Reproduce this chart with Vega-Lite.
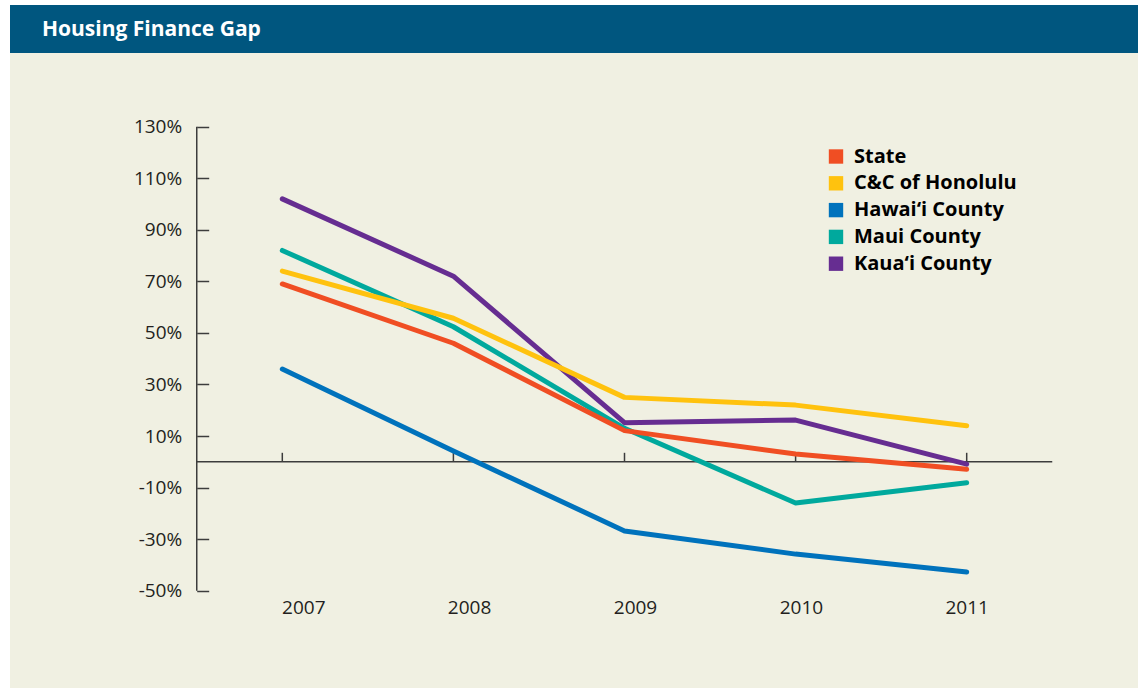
{
  "$schema": "https://vega.github.io/schema/vega-lite/v6.json",
  "background": "#ffffff",
  "padding": {"left": 10, "top": 5, "right": 0, "bottom": 0},
  "spacing": 0,
  "config": {"view": {"stroke": null}, "font": "Open Sans"},
  "vconcat": [
    {
      "width": 1128,
      "height": 48,
      "view": {"fill": "#00567F", "stroke": null},
      "title": {
        "text": "Housing Finance Gap",
        "anchor": "start",
        "frame": "group",
        "orient": "top",
        "offset": -52,
        "dx": 32,
        "baseline": "alphabetic",
        "color": "#ffffff",
        "font": "Open Sans",
        "fontSize": 21,
        "fontWeight": "bold"
      },
      "data": {"values": []},
      "mark": "rect"
    },
    {
      "width": 1128,
      "height": 635,
      "view": {"fill": "#F0F0E2", "stroke": null},
      "layer": [
        {
          "data": {"values": [{"ref": 0}]},
          "mark": {"type": "rule", "color": "#3c3c3c", "strokeWidth": 1.5},
          "encoding": {
            "y": {
              "field": "ref", "type": "quantitative",
              "scale": {"domain": [-87.74, 158.59], "nice": false, "zero": false},
              "axis": {"orient": "left", "offset": -186.7, "values": [-50, -30, -10, 10, 30, 50, 70, 90, 110, 130], "labelExpr": "datum.value + '%'", "domain": false, "grid": false, "ticks": true, "tickSize": -12, "tickWidth": 1.5, "tickColor": "#3c3c3c", "labelPadding": 27, "labelFontSize": 19, "labelFont": "Open Sans", "labelColor": "#231F20", "labelFlush": false, "title": null}
            },
            "x": {
              "datum": 2006.5, "type": "quantitative",
              "scale": {"domain": [2005.4085, 2012.0012], "nice": false, "zero": false},
              "axis": {"orient": "bottom", "offset": -89.5, "values": [2007, 2008, 2009, 2010, 2011], "format": "d", "domain": false, "ticks": false, "grid": false, "labelPadding": 0, "labelFontSize": 19, "labelFont": "Open Sans", "labelColor": "#231F20", "labelFlush": false, "title": null,
                "labelOffset": {"condition": [{"test": "datum.value == 2007", "value": 21}, {"test": "datum.value == 2008", "value": 15.7}, {"test": "datum.value == 2009", "value": 10.5}, {"test": "datum.value == 2010", "value": 5.3}], "value": 0}}
            },
            "x2": {"datum": 2011.5}
          }
        },
        {
          "data": {"values": [{"lo": -50, "hi": 130}]},
          "mark": {"type": "rule", "color": "#3c3c3c", "strokeWidth": 1.5},
          "encoding": {
            "y": {
              "field": "lo", "type": "quantitative",
              "axis": {"orient": "left", "offset": -186.7, "values": [-50, -30, -10, 10, 30, 50, 70, 90, 110, 130], "labelExpr": "datum.value + '%'", "domain": false, "grid": false, "ticks": true, "tickSize": -12, "tickWidth": 1.5, "tickColor": "#3c3c3c", "labelPadding": 27, "labelFontSize": 19, "labelFont": "Open Sans", "labelColor": "#231F20", "labelFlush": false, "title": null}
            },
            "y2": {"field": "hi"},
            "x": {
              "datum": 2006.5, "type": "quantitative",
              "axis": {"orient": "bottom", "offset": -89.5, "values": [2007, 2008, 2009, 2010, 2011], "format": "d", "domain": false, "ticks": false, "grid": false, "labelPadding": 0, "labelFontSize": 19, "labelFont": "Open Sans", "labelColor": "#231F20", "labelFlush": false, "title": null,
                "labelOffset": {"condition": [{"test": "datum.value == 2007", "value": 21}, {"test": "datum.value == 2008", "value": 15.7}, {"test": "datum.value == 2009", "value": 10.5}, {"test": "datum.value == 2010", "value": 5.3}], "value": 0}}
            }
          }
        },
        {
          "data": {"values": [{"year": 2007}, {"year": 2008}, {"year": 2009}, {"year": 2010}, {"year": 2011}]},
          "mark": {"type": "rule", "color": "#3c3c3c", "strokeWidth": 1.5},
          "encoding": {
            "x": {
              "field": "year", "type": "quantitative",
              "axis": {"orient": "bottom", "offset": -89.5, "values": [2007, 2008, 2009, 2010, 2011], "format": "d", "domain": false, "ticks": false, "grid": false, "labelPadding": 0, "labelFontSize": 19, "labelFont": "Open Sans", "labelColor": "#231F20", "labelFlush": false, "title": null,
                "labelOffset": {"condition": [{"test": "datum.value == 2007", "value": 21}, {"test": "datum.value == 2008", "value": 15.7}, {"test": "datum.value == 2009", "value": 10.5}, {"test": "datum.value == 2010", "value": 5.3}], "value": 0}}
            },
            "y": {
              "datum": 0, "type": "quantitative",
              "axis": {"orient": "left", "offset": -186.7, "values": [-50, -30, -10, 10, 30, 50, 70, 90, 110, 130], "labelExpr": "datum.value + '%'", "domain": false, "grid": false, "ticks": true, "tickSize": -12, "tickWidth": 1.5, "tickColor": "#3c3c3c", "labelPadding": 27, "labelFontSize": 19, "labelFont": "Open Sans", "labelColor": "#231F20", "labelFlush": false, "title": null}
            },
            "y2": {"datum": 3.5}
          }
        },
        {
          "data": {
            "values": [
              {"year": 2007, "series": "Hawai‘i County", "value": 36},
              {"year": 2008, "series": "Hawai‘i County", "value": 4.2},
              {"year": 2009, "series": "Hawai‘i County", "value": -26.8},
              {"year": 2010, "series": "Hawai‘i County", "value": -35.8},
              {"year": 2011, "series": "Hawai‘i County", "value": -42.7},
              {"year": 2007, "series": "Maui County", "value": 82},
              {"year": 2008, "series": "Maui County", "value": 52.4},
              {"year": 2009, "series": "Maui County", "value": 13},
              {"year": 2010, "series": "Maui County", "value": -16},
              {"year": 2011, "series": "Maui County", "value": -8.1},
              {"year": 2007, "series": "State", "value": 69},
              {"year": 2008, "series": "State", "value": 46},
              {"year": 2009, "series": "State", "value": 12.1},
              {"year": 2010, "series": "State", "value": 3},
              {"year": 2011, "series": "State", "value": -2.9},
              {"year": 2007, "series": "Kaua‘i County", "value": 102},
              {"year": 2008, "series": "Kaua‘i County", "value": 72},
              {"year": 2009, "series": "Kaua‘i County", "value": 15.2},
              {"year": 2010, "series": "Kaua‘i County", "value": 16.2},
              {"year": 2011, "series": "Kaua‘i County", "value": -0.9},
              {"year": 2007, "series": "C&C of Honolulu", "value": 74},
              {"year": 2008, "series": "C&C of Honolulu", "value": 55.7},
              {"year": 2009, "series": "C&C of Honolulu", "value": 25},
              {"year": 2010, "series": "C&C of Honolulu", "value": 22},
              {"year": 2011, "series": "C&C of Honolulu", "value": 14}
            ]
          },
          "mark": {"type": "line", "strokeWidth": 5, "strokeCap": "round", "strokeJoin": "round"},
          "encoding": {
            "x": {
              "field": "year", "type": "quantitative",
              "axis": {"orient": "bottom", "offset": -89.5, "values": [2007, 2008, 2009, 2010, 2011], "format": "d", "domain": false, "ticks": false, "grid": false, "labelPadding": 0, "labelFontSize": 19, "labelFont": "Open Sans", "labelColor": "#231F20", "labelFlush": false, "title": null,
                "labelOffset": {"condition": [{"test": "datum.value == 2007", "value": 21}, {"test": "datum.value == 2008", "value": 15.7}, {"test": "datum.value == 2009", "value": 10.5}, {"test": "datum.value == 2010", "value": 5.3}], "value": 0}}
            },
            "y": {
              "field": "value", "type": "quantitative",
              "axis": {"orient": "left", "offset": -186.7, "values": [-50, -30, -10, 10, 30, 50, 70, 90, 110, 130], "labelExpr": "datum.value + '%'", "domain": false, "grid": false, "ticks": true, "tickSize": -12, "tickWidth": 1.5, "tickColor": "#3c3c3c", "labelPadding": 27, "labelFontSize": 19, "labelFont": "Open Sans", "labelColor": "#231F20", "labelFlush": false, "title": null}
            },
            "color": {
              "field": "series",
              "type": "nominal",
              "scale": {
                "domain": ["State", "C&C of Honolulu", "Hawai‘i County", "Maui County", "Kaua‘i County"],
                "range": ["#F04E23", "#FFC20E", "#0072BC", "#00A99D", "#662D91"]
              },
              "legend": {
                "orient": "none",
                "legendX": 816,
                "legendY": 141.5,
                "title": null,
                "padding": 0,
                "symbolType": "square",
                "symbolSize": 207,
                "symbolStrokeWidth": 0,
                "symbolOpacity": 1,
                "labelFontSize": 20,
                "labelFontWeight": "bold",
                "labelFont": "Open Sans",
                "labelColor": "#000000",
                "labelOffset": 8,
                "labelLimit": 400,
                "rowPadding": 6.8,
                "encode": {
                  "symbols": {
                    "update": {
                      "fill": {"scale": "color", "field": "value"},
                      "fillOpacity": {"value": 1},
                      "strokeWidth": {"value": 0}
                    }
                  }
                }
              }
            }
          }
        }
      ]
    }
  ]
}
